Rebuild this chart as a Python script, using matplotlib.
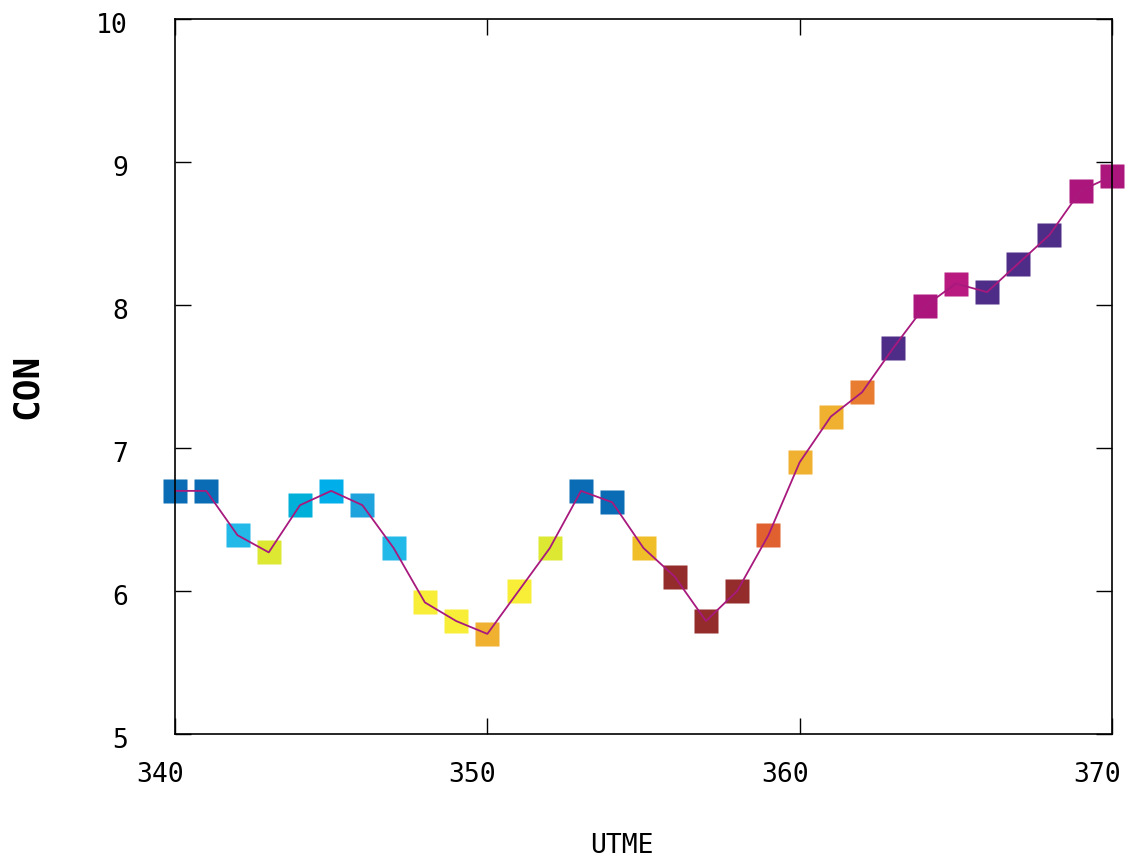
import matplotlib
matplotlib.use("Agg")
import matplotlib.pyplot as plt
import matplotlib.transforms as mtransforms

utme = list(range(340, 371))
con = [6.70, 6.70, 6.39, 6.27, 6.60, 6.70, 6.60, 6.30, 5.92, 5.79, 5.70,
       6.00, 6.30, 6.70, 6.62, 6.30, 6.10, 5.79, 6.00, 6.39, 6.90,
       7.22, 7.39, 7.70, 7.99, 8.15, 8.09, 8.29, 8.49, 8.80, 8.90]
colors = ["#0a6cb4", "#0a6cb4", "#22b8e8", "#dde832", "#00b0d8", "#00aeea",
          "#1ea3dc", "#22b8e8", "#f8ee38", "#f8ee38", "#f0b030", "#f8ee38",
          "#dde832", "#0a6cb4", "#0a6cb4", "#f0be28", "#932c2a", "#932c2a",
          "#932c2a", "#e06030", "#f0b030", "#f0b030", "#e87d32", "#4e2d88",
          "#ac157c", "#b81a80", "#4e2d88", "#4e2d88", "#4e2d88", "#ac157c",
          "#ac157c"]
xticks = [340, 350, 360, 370]
yticks = [5, 6, 7, 8, 9, 10]

plt.rcParams['font.family'] = ['DejaVu Sans Mono', 'DejaVu Sans']

fig = plt.figure(figsize=(11.25, 8.63), dpi=100)
ax = fig.add_axes([0.1556, 0.1495, 0.8328, 0.8285])

for x, y, c in zip(utme, con, colors):
    ax.plot(x, y, marker='s', ms=17.3, color=c, mec='none',
            clip_on=False, zorder=2)
ax.plot(utme, con, color="#a8197e", lw=1.3, zorder=3, clip_on=False)

ax.set_xlim(340, 370)
ax.set_ylim(5, 10)
ax.set_xticks(xticks)
ax.set_yticks(yticks)
ax.tick_params(direction='in', length=11.5, width=1, top=True, right=True,
               labelsize=19, color='black')
ax.tick_params(axis='y', pad=34)
ax.tick_params(axis='x', pad=20)
for s in ax.spines.values():
    s.set_linewidth(1.2)
    s.set_zorder(5)

# gnuplot-style label placement: x labels a bit left, y labels a bit low
xoff = mtransforms.ScaledTranslation(-15 / 100, 0, fig.dpi_scale_trans)
yoff = mtransforms.ScaledTranslation(0, -4 / 100, fig.dpi_scale_trans)
for lab in ax.get_xticklabels():
    lab.set_transform(lab.get_transform() + xoff)
for lab in ax.get_yticklabels():
    lab.set_transform(lab.get_transform() + yoff)

fig.text(622 / 1125, 1 - 846 / 863, "UTME", ha='center', va='center',
         fontsize=19)
fig.text(27 / 1125, 1 - 386 / 863, "CON", ha='center', va='center',
         fontsize=26, fontweight='bold', rotation=90)

fig.savefig("out.png", dpi=100)
